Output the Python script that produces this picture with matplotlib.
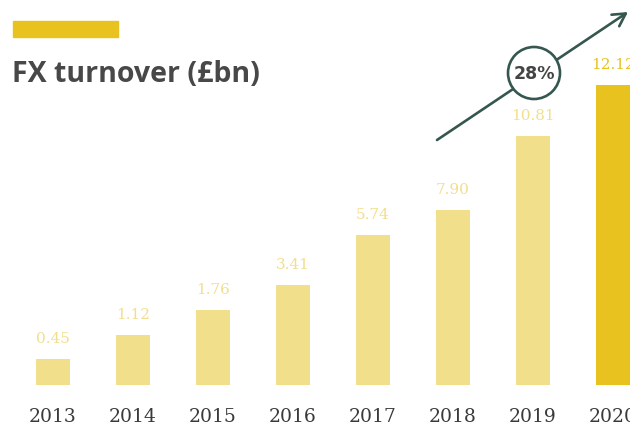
import matplotlib
matplotlib.use("Agg")
import matplotlib.pyplot as plt
from matplotlib.patches import Rectangle, Circle

years = ["2013", "2014", "2015", "2016", "2017", "2018", "2019", "2020"]
values = [0.45, 1.12, 1.76, 3.41, 5.74, 7.90, 10.81, 12.12]
value_labels = ["0.45", "1.12", "1.76", "3.41", "5.74", "7.90", "10.81", "12.12"]
# bar heights as drawn in the reference (the design does not scale bars linearly)
drawn_heights = [1.04, 2.0, 3.0, 4.0, 6.0, 7.0, 9.96, 12.0]
growth_label = "28%"
title = "FX turnover (£bn)"

GOLD = "#E8C21E"
LIGHT = "#F2DF8C"
DARK = "#444444"
TEAL = "#35574F"

W, H = 630, 430
fig = plt.figure(figsize=(W / 100, H / 100), dpi=100)
fig.patch.set_facecolor("white")
ax = fig.add_axes([0, 0, 1, 1])
ax.set_xlim(-0.6625, 7.2125)
ax.set_ylim(-1.8, 15.4)
ax.axis("off")

x = list(range(len(years)))
colors = [LIGHT] * (len(years) - 1) + [GOLD]
ax.bar(x, drawn_heights, width=0.425, color=colors, zorder=2)

serif = ["DejaVu Serif"]
for i, (h, lab) in enumerate(zip(drawn_heights, value_labels)):
    ax.text(i, h + 0.8, lab, ha="center", va="center", fontsize=11,
            color=colors[i], family=serif)
    ax.text(i, -1.28, years[i], ha="center", va="center", fontsize=13.5,
            color="#3a3a3a", family=serif)

# decorative top bar and title
fig.patches.append(Rectangle((13 / W, 1 - 37 / H), 105 / W, 16 / H,
                             transform=fig.transFigure, color=GOLD))
fig.text(12 / W, 1 - 75 / H, title, ha="left", va="center", fontsize=20.5,
         fontweight="bold", color="#484848", family=["Open Sans", "DejaVu Sans"])

# growth arrow
ax.annotate("", xy=(628 / W, 1 - 12 / H), xytext=(437 / W, 1 - 140 / H),
            xycoords="figure fraction", textcoords="figure fraction",
            arrowprops=dict(arrowstyle="->,head_length=0.9,head_width=0.5",
                            color=TEAL, lw=1.9, shrinkA=0, shrinkB=0),
            zorder=3)
circ = Circle((5.34, 4.30 - 0.73), 0.26, transform=fig.dpi_scale_trans,
              facecolor="white", edgecolor=TEAL, lw=1.9, zorder=4)
fig.patches.append(circ)
fig.text(534 / W, 1 - 74 / H, growth_label, ha="center", va="center",
         fontsize=12.5, fontweight="bold", color=DARK, zorder=5,
         family=["DejaVu Sans"])

fig.savefig("out.png", dpi=100)
